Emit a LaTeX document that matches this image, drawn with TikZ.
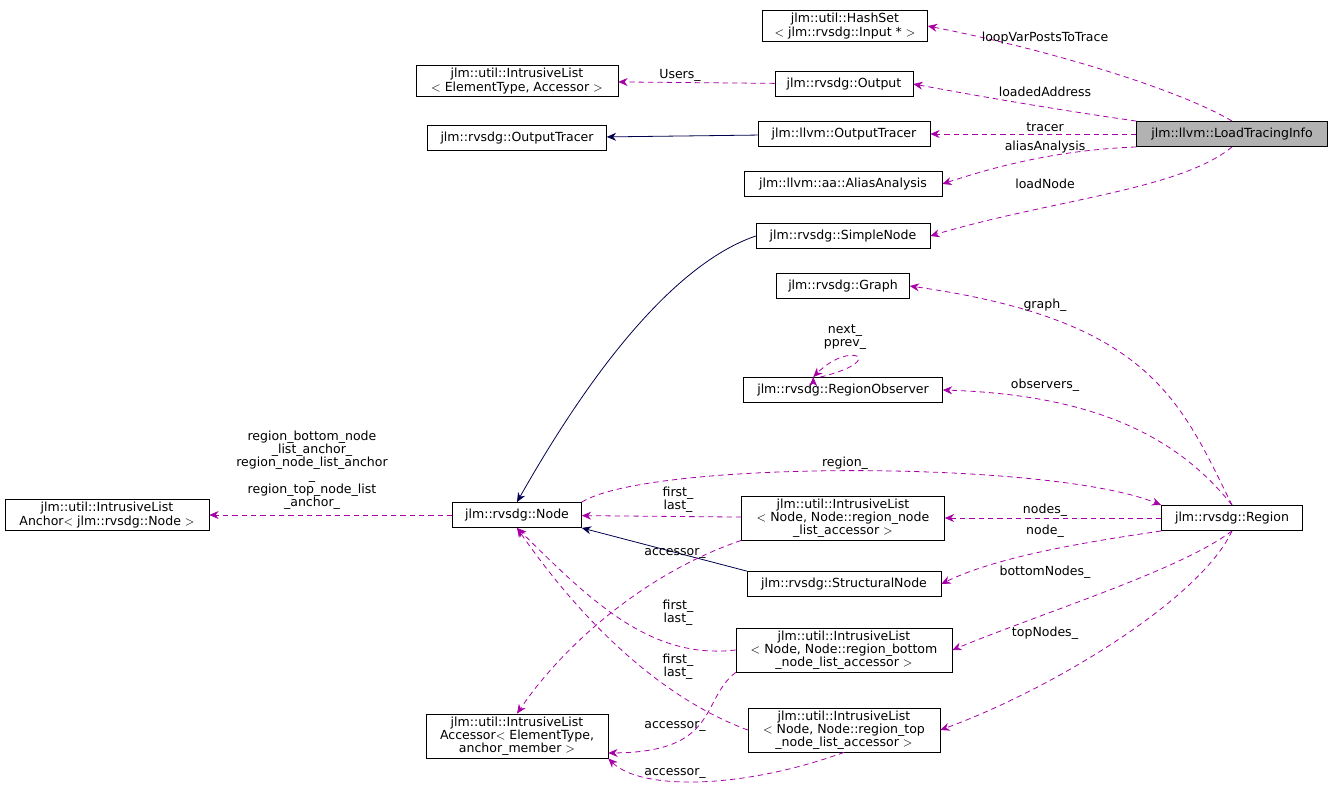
\documentclass[tikz,border=0pt]{standalone}
\usepackage{fontspec}
\setmainfont{DejaVu Sans}
\usetikzlibrary{arrows.meta}
\tikzset{
  cls/.style={draw, rectangle, fill=white, inner sep=2pt, align=center, minimum height=19pt, font=\fontsize{9.4}{9.9}\selectfont},
  usage/.style={draw=violet!70!magenta, dashed, dash pattern=on 4pt off 3pt, -{Stealth[length=7pt,width=6pt]}, line width=0.6pt},
  inherit/.style={draw=blue!30!black, -{Stealth[length=7pt,width=6pt]}, line width=0.6pt},
  lbl/.style={font=\fontsize{9.4}{9.9}\selectfont, align=center, inner sep=1pt, fill=white, fill opacity=0, text opacity=1}
}
\begin{document}
\begin{tikzpicture}[x=0.75pt,y=-0.75pt]
  \useasboundingbox (0,0) rectangle (1333,790);

  \node[cls, minimum width=165*0.75pt] (hash) at (845,26) {jlm::util::HashSet\\$<$ jlm::rvsdg::Input * $>$};
  \node[cls, minimum width=202*0.75pt] (ilelem) at (517,81) {jlm::util::IntrusiveList\\$<$ ElementType, Accessor $>$};
  \node[cls, minimum width=138*0.75pt] (output) at (844,84) {jlm::rvsdg::Output};
  \node[cls, minimum width=179*0.75pt] (rtracer) at (517,138) {jlm::rvsdg::OutputTracer};
  \node[cls, minimum width=172*0.75pt] (ltracer) at (844,134) {jlm::llvm::OutputTracer};
  \node[cls, minimum width=191*0.75pt, fill=black!30] (lti) at (1232,134) {jlm::llvm::LoadTracingInfo};
  \node[cls, minimum width=198*0.75pt] (alias) at (843,184) {jlm::llvm::aa::AliasAnalysis};
  \node[cls, minimum width=174*0.75pt] (simple) at (843,236) {jlm::rvsdg::SimpleNode};
  \node[cls, minimum width=133*0.75pt] (graph) at (843,286) {jlm::rvsdg::Graph};
  \node[cls, minimum width=199*0.75pt] (observer) at (843,390) {jlm::rvsdg::RegionObserver};
  \node[cls, minimum width=204*0.75pt] (anchor) at (107,515) {jlm::util::IntrusiveList\\Anchor$<$ jlm::rvsdg::Node $>$};
  \node[cls, minimum width=129*0.75pt] (node) at (517,515) {jlm::rvsdg::Node};
  \node[cls, minimum width=203*0.75pt] (ilnode) at (843,518) {jlm::util::IntrusiveList\\$<$ Node, Node::region\_node\\\_list\_accessor $>$};
  \node[cls, minimum width=141*0.75pt] (region) at (1232,518) {jlm::rvsdg::Region};
  \node[cls, minimum width=194*0.75pt] (structural) at (844,584) {jlm::rvsdg::StructuralNode};
  \node[cls, minimum width=216*0.75pt] (ilbottom) at (844,650) {jlm::util::IntrusiveList\\$<$ Node, Node::region\_bottom\\\_node\_list\_accessor $>$};
  \node[cls, minimum width=182*0.75pt] (accessor) at (517,736) {jlm::util::IntrusiveList\\Accessor$<$ ElementType,\\anchor\_member $>$};
  \node[cls, minimum width=192*0.75pt] (iltop) at (844,730) {jlm::util::IntrusiveList\\$<$ Node, Node::region\_top\\\_node\_list\_accessor $>$};

  % inheritance
  \draw[inherit] (ltracer) -- (rtracer);
  \draw[inherit] (simple.west) .. controls (700,255) and (620,320) .. (node.north);
  \draw[inherit] (structural.north west) -- (node.south east);

  % members of LoadTracingInfo
  \draw[usage] (lti.north) .. controls (1180,90) and (1050,50) .. (hash.east);
  \draw[usage] (lti.north west) .. controls (1060,110) and (1000,100) .. (output.east);
  \draw[usage] (lti) -- (ltracer);
  \draw[usage] (lti.south west) .. controls (1060,150) and (1000,165) .. (alias.east);
  \draw[usage] (lti.south) .. controls (1180,190) and (1050,200) .. (simple.east);
  \draw[usage] (output) -- (ilelem);
  \node[lbl] (l1) at (1045,38) {loopVarPostsToTrace};
  \node[lbl] (l2) at (1045,92) {loadedAddress};
  \node[lbl] (l3) at (1045,127) {tracer};
  \node[lbl] (l4) at (1045,147) {aliasAnalysis};
  \node[lbl] (l5) at (1045,184) {loadNode};
  \node[lbl] (l6) at (680,75) {Users\_};

  % members of Region
  \draw[usage] (region.north) .. controls (1180,400) and (1150,320) .. (graph.east);
  \draw[usage] (region.north) .. controls (1180,440) and (1100,395) .. (observer.east);
  \draw[usage] (observer.north west) ++(77*0.75pt,0) coordinate (obsr)
    (observer.north west) ++(70*0.75pt,0) coordinate (obsl);
  \draw[usage] (obsr) .. controls (890,360) and (850,340) .. (obsl);
  \draw[usage] (region.west) -- (ilnode.east);
  \draw[usage] (region.south west) .. controls (1100,540) and (1000,555) .. (structural.east);
  \draw[usage] (region.south) .. controls (1180,570) and (1050,610) .. (ilbottom.east);
  \draw[usage] (region.south) .. controls (1200,600) and (1050,690) .. (iltop.east);
  \node[lbl] (l7) at (1045,305) {graph\_};
  \node[lbl] (l8) at (1045,385) {observers\_};
  \node[lbl] (l9) at (845,337) {next\_\\pprev\_};
  \node[lbl] (l10) at (1045,510) {nodes\_};
  \node[lbl] (l11) at (1045,531) {node\_};
  \node[lbl] (l12) at (1045,572) {bottomNodes\_};
  \node[lbl] (l13) at (1045,633) {topNodes\_};

  % node links
  \draw[usage] (node.north east) .. controls (650,460) and (1050,460) .. (region.north west);
  \draw[usage] (node) -- (anchor);
  \draw[usage] (ilnode) -- (node);
  \draw[usage] (ilnode.south west) .. controls (640,575) and (560,650) .. (accessor.north);
  \draw[usage] (ilbottom.west) .. controls (650,660) and (590,600) .. (node.south);
  \draw[usage] (iltop.west) .. controls (640,690) and (560,590) .. (node.south);
  \draw[usage] (ilbottom.south west) .. controls (700,700) and (720,752) .. (accessor.east |- 0,753);
  \draw[usage] (iltop.south) .. controls (740,790) and (640,790) .. (accessor.south east);
  \node[lbl] (l14) at (312,470) {region\_bottom\_node\\\_list\_anchor\_\\region\_node\_list\_anchor\\\_\\region\_top\_node\_list\\\_anchor\_};
  \node[lbl] (l15) at (678,500) {first\_\\last\_};
  \node[lbl] (l16) at (675,553) {accessor\_};
  \node[lbl] (l17) at (678,613) {first\_\\last\_};
  \node[lbl] (l18) at (678,667) {first\_\\last\_};
  \node[lbl] (l19) at (675,726) {accessor\_};
  \node[lbl] (l20) at (675,773) {accessor\_};
  \node[lbl] (l21) at (845,463) {region\_};
\end{tikzpicture}
\end{document}
